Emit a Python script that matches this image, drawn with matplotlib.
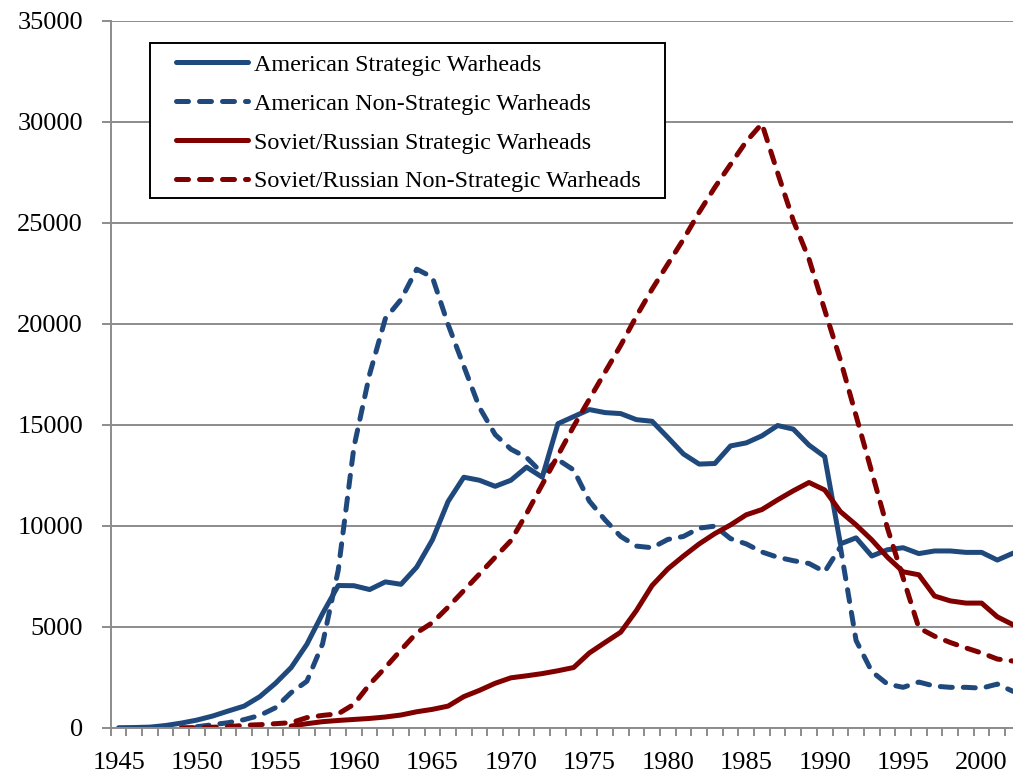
import numpy as np
import matplotlib
matplotlib.use('Agg')
import matplotlib.pyplot as plt
from matplotlib.patches import Rectangle
from matplotlib.ticker import FixedLocator, NullFormatter

plt.rcParams['font.family'] = ['Liberation Serif', 'DejaVu Serif']

years = list(range(1945, 2003))
nan = np.nan

us_strategic = [0, 10, 30, 110, 230, 380, 580, 830, 1070, 1540,
                2200, 2980, 4130, 5650, 7040, 7030, 6840, 7220, 7100, 7950,
                9300, 11200, 12400, 12250, 11950, 12250, 12900, 12400, 15050, 15400,
                15750, 15600, 15550, 15250, 15170, 14370, 13550, 13050, 13080, 13950,
                14100, 14450, 14960, 14780, 13990, 13420, 9100, 9400, 8500, 8810,
                8910, 8620, 8750, 8750, 8680, 8680, 8300, 8640]

us_nonstrategic = [nan, nan, nan, nan, nan, 50, 150, 250, 400, 610,
                   990, 1740, 2300, 4150, 7800, 13900, 17500, 20250, 21200, 22700,
                   22300, 19960, 17900, 15850, 14510, 13790, 13380, 12600, 13270, 12760,
                   11220, 10290, 9470, 8990, 8910, 9320, 9470, 9880, 9980, 9360,
                   9100, 8700, 8440, 8270, 8130, 7720, 8950, 4320, 2780, 2160,
                   2000, 2260, 2060, 2000, 2000, 1960, 2160, 1800]

sov_strategic = [nan, nan, nan, nan, nan, nan, nan, nan, nan, nan,
                 nan, 80, 200, 300, 360, 410, 460, 530, 630, 790,
                 910, 1070, 1540, 1850, 2200, 2470, 2570, 2680, 2820, 2980,
                 3700, 4220, 4730, 5800, 7040, 7860, 8500, 9100, 9610, 10040,
                 10540, 10800, 11280, 11730, 12140, 11770, 10700, 10040, 9300, 8440,
                 7720, 7570, 6520, 6280, 6170, 6170, 5490, 5100]

sov_nonstrategic = [nan, nan, nan, nan, 0, 5, 25, 50, 120, 150,
                    200, 250, 500, 610, 690, 1160, 2150, 2980, 3850, 4700,
                    5200, 5970, 6790, 7610, 8440, 9260, 10600, 12040, 13480, 14920,
                    16260, 17600, 18930, 20370, 21710, 22950, 24180, 25520, 26750, 27890,
                    29020, 29900, 27470, 25110, 23200, 20680, 18210, 15440, 12660, 9880,
                    7410, 4940, 4530, 4220, 3950, 3700, 3400, 3300]

labels = ["American Strategic Warheads", "American Non-Strategic Warheads",
          "Soviet/Russian Strategic Warheads", "Soviet/Russian Non-Strategic Warheads"]

blue = '#1F497D'
red = '#800000'
grid_col = '#8C8C8C'

W, H = 1013, 775
fig = plt.figure(figsize=(W / 100, H / 100), dpi=100)
ax = fig.add_axes([0.1093, 0.0610, 0.8907, 0.9123])

x = np.arange(len(years))
series = [(us_strategic, blue, '-'), (us_nonstrategic, blue, '--'),
          (sov_strategic, red, '-'), (sov_nonstrategic, red, '--')]
for (vals, col, ls), lab in zip(series, labels):
    line, = ax.plot(x, vals, color=col, linewidth=3.6, label=lab,
                    solid_capstyle='round', solid_joinstyle='round',
                    dash_capstyle='round', dash_joinstyle='round')
    if ls == '--':
        line.set_dashes((2.4, 2.2))

ax.set_xlim(-0.5, 57.0)
ax.set_ylim(0, 35000)
ax.set_yticks(np.arange(0, 35001, 5000))
ax.yaxis.grid(True, color=grid_col, linewidth=1.4)
ax.set_axisbelow(True)

# category boundary ticks, labels every 5 years at category centres
ax.xaxis.set_major_locator(FixedLocator(np.arange(-0.5, 58, 1.0)))
ax.xaxis.set_major_formatter(NullFormatter())
ax.xaxis.set_minor_locator(FixedLocator(np.arange(0, 58, 5)))
ax.set_xticklabels([str(years[i]) for i in range(0, 58, 5)], minor=True)
ax.tick_params(axis='x', which='major', length=6, width=1.4, color=grid_col, direction='out')
ax.tick_params(axis='x', which='minor', length=0, pad=17.5, labelsize=19)
ax.tick_params(axis='y', length=6.5, width=1.4, color=grid_col, pad=13.5, labelsize=19)

for s in ['top', 'right']:
    ax.spines[s].set_visible(False)
for s in ['left', 'bottom']:
    ax.spines[s].set_color(grid_col)
    ax.spines[s].set_linewidth(1.4)

# legend frame drawn separately so padding can differ left/right vs top/bottom
frame = Rectangle((150 / W, 1 - 198 / H), 515 / W, 155 / H, transform=fig.transFigure,
                  facecolor='white', edgecolor='black', linewidth=1.4,
                  zorder=4, clip_on=False)
ax.add_patch(frame)
leg = ax.legend(loc='upper left', bbox_to_anchor=(176 / W, 1 - 54 / H),
                bbox_transform=fig.transFigure, fontsize=17.4, frameon=False,
                handlelength=2.98, handletextpad=0.25, labelspacing=0.70,
                borderpad=0, borderaxespad=0)
leg.set_zorder(5)

fig.savefig('out.png', dpi=100)
